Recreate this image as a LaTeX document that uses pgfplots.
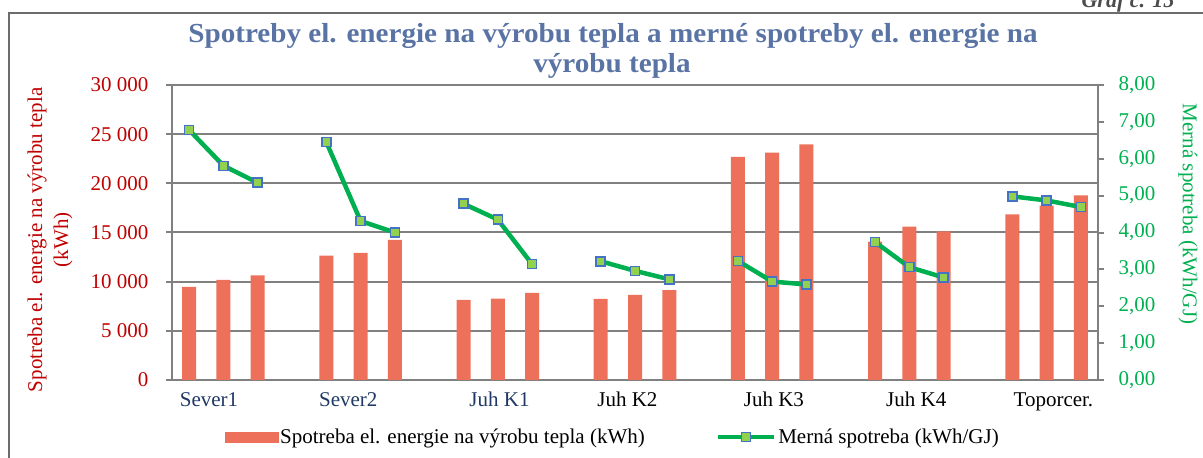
\documentclass[border=0pt]{standalone}
\usepackage{pgfplots}
\pgfplotsset{compat=1.18}
\usepackage{fontspec}
\setmainfont{Liberation Serif}
\newfontfamily\titlefont[FakeStretch=1.06]{Liberation Serif}
\definecolor{barc}{RGB}{236,112,90}
\definecolor{linec}{RGB}{0,176,80}
\definecolor{markedge}{RGB}{68,114,196}
\definecolor{markfill}{RGB}{146,208,80}
\definecolor{gridc}{RGB}{128,128,128}
\definecolor{redc}{RGB}{192,0,0}
\definecolor{navyc}{RGB}{31,56,100}
\definecolor{titlec}{RGB}{90,115,165}
\newcommand{\txt}{\fontsize{21}{26}\selectfont}
\pgfplotsset{
  lineleg/.style={legend image code/.code={\draw[mark repeat=2, mark phase=2, ##1] plot coordinates {(0pt,0pt) (28pt,0pt) (56pt,0pt)};}},
  barleg/.style={legend image code/.code={\fill[barc] (0pt,-5pt) rectangle (53pt,5pt);}},
}
\begin{document}
\begin{tikzpicture}[x=1pt,y=1pt]
\useasboundingbox (0,0) rectangle (1203,458);
\draw[gray!85!black, line width=2.5pt] (9,-20) -- (9,445) -- (1230,445);
\node[anchor=base east, font=\fontsize{22}{26}\selectfont\bfseries\itshape, text=black!70] at (1178,450) {Graf č. 15};
\node[anchor=base, font=\titlefont\fontsize{27.5}{30}\selectfont\bfseries, text=titlec] at (613,415) {Spotreby el. energie na výrobu tepla a merné spotreby el. energie na};
\node[anchor=base, font=\titlefont\fontsize{27.5}{30}\selectfont\bfseries, text=titlec] at (612,385) {výrobu tepla};

\begin{axis}[
  at={(172pt,78pt)}, anchor=south west, scale only axis,
  width=926pt, height=295pt,
  xmin=-0.5, xmax=26.5, ymin=0, ymax=30000,
  axis x line*=bottom, axis y line*=left,
  axis line style={gridc, line width=2pt},
  ymajorgrids, grid style={gridc, line width=2pt},
  ytick={0,5000,...,30000},
  tick align=outside, major tick length=6pt,
  ytick style={gridc, line width=2pt},
  xtick={0.58,4.64,9.05,12.78,17.05,21.2,25.2},
  xticklabels={\textcolor{navyc}{Sever1},\textcolor{navyc}{Sever2},\textcolor{navyc}{Juh K1},Juh K2,Juh K3,Juh K4,Toporcer.},
  xtick style={draw=none},
  xticklabel style={font=\txt, anchor=mid, yshift=-18pt},
  yticklabel style={font=\txt, text=redc, xshift=-14pt},
  scaled y ticks=false,
  ylabel={Spotreba el. energie na výrobu tepla\\(kWh)},
  every axis y label/.style={at={(axis description cs:-0.1317,0.475)}, anchor=center, rotate=90, align=center, font=\txt, text=redc},
  ybar, bar width=14pt,
  /pgf/number format/1000 sep={\ },
  /pgf/number format/assume math mode=true,
]
\addplot[fill=barc, draw=none] table[x=x,y=y] {
x y
0 9460
1 10170
2 10650
4 12640
5 12920
6 14240
8 8140
9 8270
10 8850
12 8240
13 8650
14 9150
16 22680
17 23120
18 23970
20 14070
21 15600
22 15120
24 16850
25 17730
26 18780
};
\end{axis}

\begin{axis}[
  at={(172pt,78pt)}, anchor=south west, scale only axis,
  width=926pt, height=295pt,
  xmin=-0.5, xmax=26.5, ymin=0, ymax=8,
  axis x line=none, axis y line*=right,
  axis line style={gridc, line width=2pt},
  ytick={0,1,...,8},
  tick align=outside, major tick length=6pt,
  ytick style={gridc, line width=2pt},
  yticklabel style={font=\txt, text=linec, xshift=11pt},
  ylabel={Merná spotreba (kWh/GJ)},
  every axis y label/.style={at={(axis description cs:1.097,0.5627)}, anchor=center, rotate=-90, font=\txt, text=linec},
  unbounded coords=jump,
  legend columns=2,
  legend style={at={(axis description cs:0.476,-0.193)}, anchor=center, draw=none, fill=none, font=\txt,
    /tikz/every even column/.append style={column sep=69pt}},
  /pgf/number format/fixed, /pgf/number format/fixed zerofill,
  /pgf/number format/precision=2, /pgf/number format/use comma,
  /pgf/number format/assume math mode=true,
]
\addlegendimage{barleg}
\addlegendentry{Spotreba el. energie na výrobu tepla (kWh)}
\addplot[linec, line width=4.5pt, mark=square*, mark size=4.5pt,
  mark options={draw=markedge, fill=markfill, line width=1.5pt}, lineleg]
  table[x=x,y=y] {
x y
0 6.78
1 5.81
2 5.35
3 nan
4 6.45
5 4.31
6 4.00
7 nan
8 4.78
9 4.35
10 3.14
11 nan
12 3.22
13 2.96
14 2.73
15 nan
16 3.23
17 2.67
18 2.59
19 nan
20 3.74
21 3.06
22 2.78
23 nan
24 4.98
25 4.87
26 4.69
};
\addlegendentry{Merná spotreba (kWh/GJ)}
\end{axis}
\end{tikzpicture}
\end{document}
